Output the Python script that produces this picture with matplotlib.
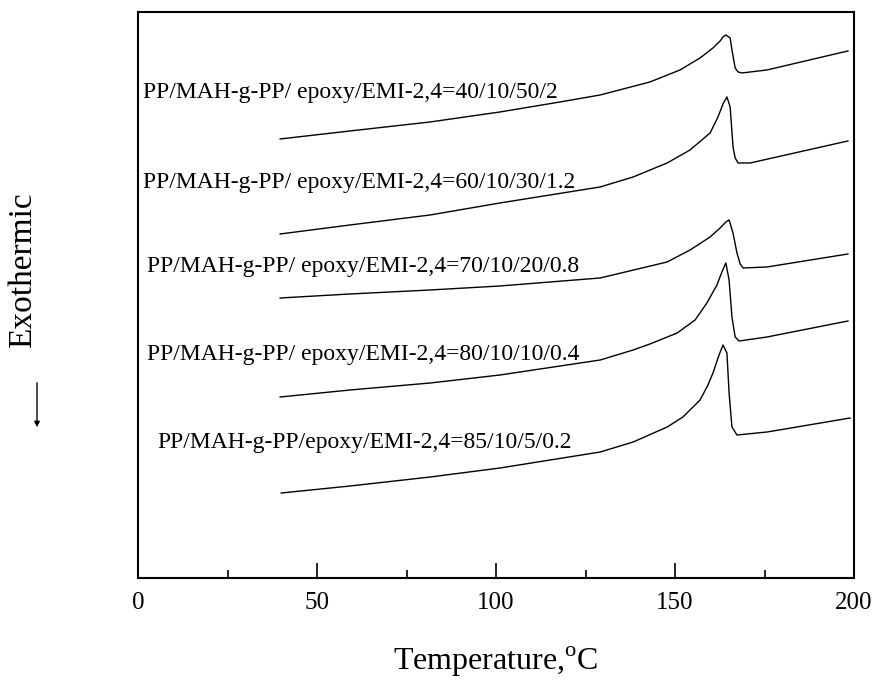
import matplotlib
matplotlib.use("Agg")
import matplotlib.pyplot as plt
from matplotlib.ticker import MultipleLocator

plt.rcParams["font.family"] = ["Liberation Serif", "DejaVu Serif"]
plt.rcParams["mathtext.fontset"] = "custom"
plt.rcParams["mathtext.rm"] = "Liberation Serif"

# DSC heating scans, temperature in degC and heat flow (arbitrary, offset per curve)
t_40 = [39.7, 59.2, 81.6, 101.1, 117.9, 129.1, 143.0, 151.4, 157.0, 160.6, 162.6,
        163.4, 164.2, 165.4, 165.9, 166.8, 167.6, 168.7, 175.7, 198.3]
q_40 = [439, 447, 456, 466, 476, 483, 496, 508, 520, 530, 537,
        541, 543, 540, 528, 510, 506, 505, 508, 527]

t_60 = [39.7, 59.2, 81.6, 101.1, 129.1, 138.3, 147.8, 154.2, 159.8, 162.0,
        163.4, 164.5, 165.4, 166.2, 166.8, 167.6, 171.0, 198.3]
q_60 = [344, 353, 363, 375, 391, 401, 415, 428, 445, 461,
        474, 481, 471, 431, 420, 415, 415, 437]

t_70 = [39.7, 59.2, 81.6, 101.1, 129.1, 147.8, 154.2, 159.8, 162.6, 164.2,
        165.1, 166.2, 167.3, 168.2, 169.0, 175.7, 198.3]
q_70 = [280, 284, 288, 292, 300, 316, 328, 341, 350, 356,
        358, 345, 325, 314, 310, 311, 324]

t_80 = [39.7, 59.2, 81.6, 101.1, 129.1, 138.3, 143.0, 150.6, 155.6, 158.9,
        161.7, 163.1, 164.2, 165.1, 165.9, 166.8, 167.9, 175.7, 198.3]
q_80 = [181, 188, 195, 203, 218, 228, 234, 245, 258, 275,
        293, 306, 315, 298, 261, 241, 237, 241, 257]

t_85 = [40.0, 59.2, 81.6, 101.1, 129.1, 138.3, 147.8, 152.2, 157.0, 159.2,
        160.6, 162.3, 163.4, 164.5, 165.1, 165.9, 167.3, 175.7, 198.9]
q_85 = [85, 92, 101, 110, 126, 136, 151, 161, 178, 193,
        205, 223, 233, 225, 185, 151, 143, 146, 160]

labels = [
    "PP/MAH-g-PP/ epoxy/EMI-2,4=40/10/50/2",
    "PP/MAH-g-PP/ epoxy/EMI-2,4=60/10/30/1.2",
    "PP/MAH-g-PP/ epoxy/EMI-2,4=70/10/20/0.8",
    "PP/MAH-g-PP/ epoxy/EMI-2,4=80/10/10/0.4",
    "PP/MAH-g-PP/epoxy/EMI-2,4=85/10/5/0.2",
]
label_x = [1.4, 1.4, 2.5, 2.5, 5.3]
label_y = [485, 395, 311, 223, 136]

curves = [(t_40, q_40), (t_60, q_60), (t_70, q_70), (t_80, q_80), (t_85, q_85)]

fig = plt.figure(figsize=(8.77, 6.83), dpi=100)
ax = fig.add_axes([0.1574, 0.1537, 0.8164, 0.8288])

for t, q in curves:
    ax.plot(t, q, color="black", lw=1.0, solid_joinstyle="round")

for x, y, txt in zip(label_x, label_y, labels):
    ax.text(x, y, txt, ha="left", va="center", fontsize=17)

ax.set_xlim(0, 200)
ax.set_ylim(0, 566)
ax.xaxis.set_major_locator(MultipleLocator(50))
ax.xaxis.set_minor_locator(MultipleLocator(25))
ax.tick_params(axis="x", which="major", direction="in", length=11, width=1.2,
               labelsize=18, pad=10)
ax.tick_params(axis="x", which="minor", direction="in", length=6, width=1.2)
ax.set_yticks([])
for sp in ax.spines.values():
    sp.set_linewidth(1.5)

ax.set_xlabel(r"Temperature,$^{\mathrm{o}}$C", fontsize=23, labelpad=22)

fig.text(0.0257, 0.6047, "Exothermic", rotation=90, ha="center", va="center",
         fontsize=24)
ax.annotate("", xy=(0.0422, 0.3704), xytext=(0.0422, 0.4436),
            xycoords="figure fraction", textcoords="figure fraction",
            arrowprops=dict(arrowstyle="-|>", color="black", lw=1.0,
                            mutation_scale=8))

fig.savefig("out.png", dpi=100)
